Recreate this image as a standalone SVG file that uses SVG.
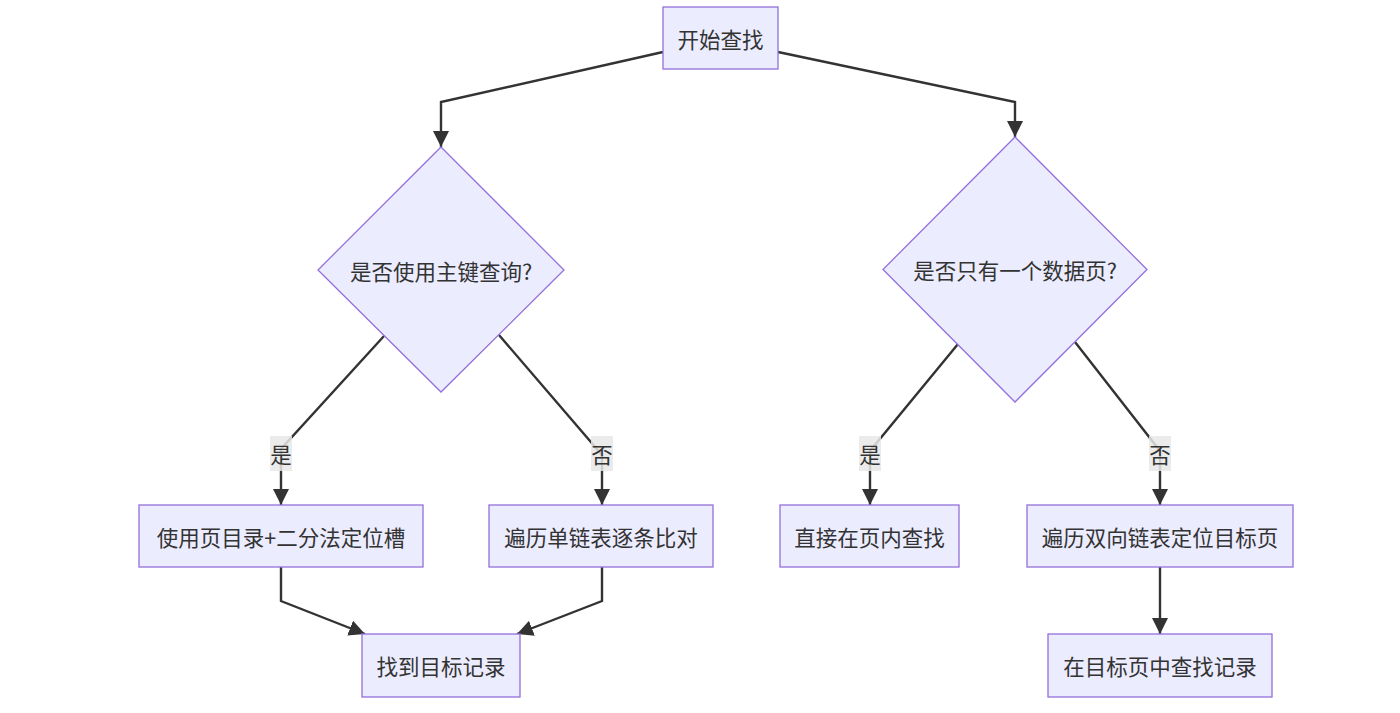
<svg xmlns="http://www.w3.org/2000/svg" width="1400" height="713" viewBox="0 0 1400 713">
<style>
.node rect, .node polygon { fill: #ECECFF; stroke: #9370DB; stroke-width: 1.3; }
.node text, .lbl text { font-family: "Noto Sans CJK SC", "Noto Sans", sans-serif; font-size: 21.5px; fill: #333; text-anchor: middle; dominant-baseline: central; }
.edge { fill: none; stroke: #333; stroke-width: 2.4; marker-end: url(#arrow); }
.lbl rect { fill: #e8e8e8; opacity: 0.85; }
</style>
<defs>
<marker id="arrow" viewBox="0 0 10 10" refX="10" refY="5" markerUnits="userSpaceOnUse" markerWidth="16" markerHeight="16" orient="auto">
<path d="M0,0 L10,5 L0,10 z" fill="#333"/>
</marker>
</defs>
<rect width="1400" height="713" fill="#fff"/>
<g id="connectors">
<path class="edge" d="M663,52 L441,102 L441,147"/>
<path class="edge" d="M778,52 L1015,102 L1015,137"/>
<path class="edge" d="M384,336 L281,449 L281,505"/>
<path class="edge" d="M499,335 L602,455 L602,505"/>
<path class="edge" d="M958,344 L870,451 L870,505"/>
<path class="edge" d="M1075,342 L1160,451 L1160,505"/>
<path class="edge" d="M281,567 L281,601 L365,634"/>
<path class="edge" d="M602,567 L602,601 L517,634"/>
<path class="edge" d="M1160,567 L1160,634"/>
</g>
<g id="labels">
<g class="lbl" id="lbl-yes1"><rect x="270" y="436" width="22" height="35"/><text x="281" y="453">是</text></g>
<g class="lbl" id="lbl-no1"><rect x="591" y="436" width="22" height="35"/><text x="602" y="453">否</text></g>
<g class="lbl" id="lbl-yes2"><rect x="859" y="436" width="22" height="35"/><text x="870" y="453">是</text></g>
<g class="lbl" id="lbl-no2"><rect x="1149" y="436" width="22" height="35"/><text x="1160" y="453">否</text></g>
</g>
<g class="node" id="start"><rect x="663" y="7" width="115" height="62"/><text x="720.5" y="38">开始查找</text></g>
<g class="node" id="q1"><polygon points="441,147 564,270 441,392 318,270"/><text x="441" y="270">是否使用主键查询?</text></g>
<g class="node" id="q2"><polygon points="1015,137 1147,269.5 1015,402 883,269.5"/><text x="1015" y="269.5">是否只有一个数据页?</text></g>
<g class="node" id="a1"><rect x="139" y="505" width="284" height="62"/><text x="281" y="536">使用页目录+二分法定位槽</text></g>
<g class="node" id="a2"><rect x="489" y="505" width="224" height="62"/><text x="601" y="536">遍历单链表逐条比对</text></g>
<g class="node" id="found"><rect x="362" y="634" width="158" height="63"/><text x="441" y="665.5">找到目标记录</text></g>
<g class="node" id="b1"><rect x="780" y="505" width="179" height="62"/><text x="869.5" y="536">直接在页内查找</text></g>
<g class="node" id="b2"><rect x="1027" y="505" width="266" height="62"/><text x="1160" y="536">遍历双向链表定位目标页</text></g>
<g class="node" id="b3"><rect x="1048" y="634" width="224" height="63"/><text x="1160" y="665.5">在目标页中查找记录</text></g>
</svg>
